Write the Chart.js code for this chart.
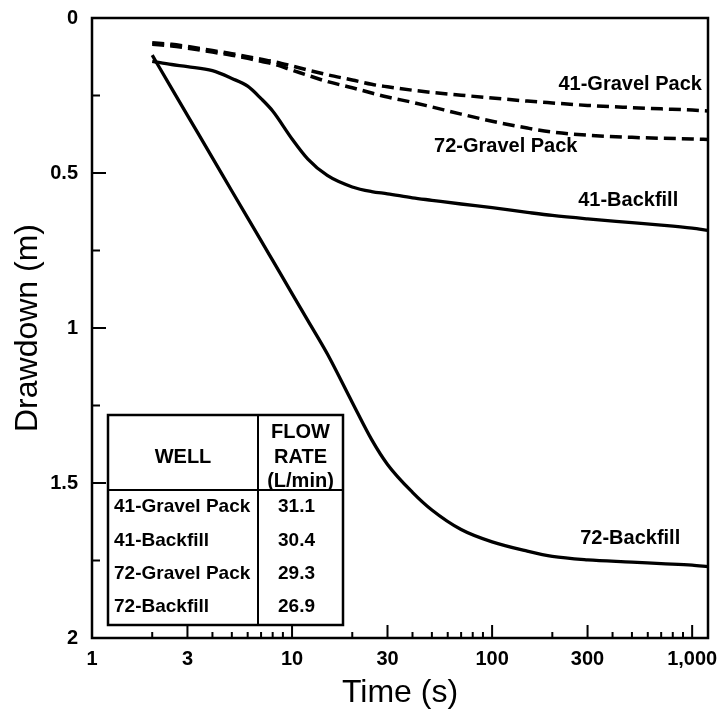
<!DOCTYPE html>
<html><head><meta charset="utf-8">
<script src="https://cdn.jsdelivr.net/npm/chart.js@4/dist/chart.umd.min.js"></script>
<style>html,body{margin:0;padding:0;background:#fff}#wrap{width:726px;height:715px}canvas{display:block}</style>
</head><body><div id="wrap"><canvas id="c" width="726" height="715"></canvas></div>
<script>
// ---- data ----
const times = [2, 2.5, 3, 4, 5, 6, 7, 8, 10, 12, 15, 20, 25, 30, 40, 50, 70, 100, 150, 200, 300, 500, 700, 1000, 1200];
const gravelPack41 = [0.08, 0.085, 0.092, 0.105, 0.115, 0.125, 0.133, 0.14, 0.155, 0.168, 0.183, 0.20, 0.214, 0.222, 0.233, 0.24, 0.249, 0.258, 0.268, 0.274, 0.282, 0.289, 0.293, 0.297, 0.30];
const gravelPack72 = [0.085, 0.09, 0.097, 0.11, 0.12, 0.13, 0.14, 0.148, 0.168, 0.185, 0.205, 0.225, 0.242, 0.255, 0.272, 0.287, 0.31, 0.333, 0.355, 0.368, 0.378, 0.385, 0.388, 0.39, 0.392];
const backfill41 = [0.14, 0.15, 0.157, 0.17, 0.195, 0.22, 0.26, 0.30, 0.39, 0.455, 0.508, 0.545, 0.56, 0.567, 0.58, 0.588, 0.60, 0.612, 0.627, 0.637, 0.648, 0.66, 0.668, 0.678, 0.685];
const backfill72 = [0.12, 0.227, 0.314, 0.451, 0.558, 0.645, 0.718, 0.782, 0.889, 0.976, 1.083, 1.24, 1.36, 1.44, 1.53, 1.587, 1.65, 1.69, 1.72, 1.737, 1.748, 1.755, 1.76, 1.765, 1.77];

const seriesNames = ['41-Gravel Pack', '72-Gravel Pack', '41-Backfill', '72-Backfill'];

const xTickValues = [1, 3, 10, 30, 100, 300, 1000];
const xTickLabels = ['1', '3', '10', '30', '100', '300', '1,000'];
const xMinorTicks = [2, 4, 5, 6, 7, 8, 9, 20, 40, 50, 60, 70, 80, 90, 200, 400, 500, 600, 700, 800, 900];
const yTickValues = [0, 0.5, 1, 1.5, 2];
const yTickLabels = ['0', '0.5', '1', '1.5', '2'];
const yMinorTicks = [0.25, 0.75, 1.25, 1.75];

const wells = ['41-Gravel Pack', '41-Backfill', '72-Gravel Pack', '72-Backfill'];
const flowRates = ['31.1', '30.4', '29.3', '26.9'];
const flowHeader = ['FLOW', 'RATE', '(L/min)'];

// curve label anchors (time, drawdown)
const labelTimes = [490, 117, 479, 490];
const labelDrawdowns = [0.216, 0.413, 0.59, 1.68];

const FONT = '"Liberation Sans", Arial, Helvetica, sans-serif';

function pts(ys) { return times.map((t, i) => ({ x: t, y: ys[i] })); }

const decorPlugin = {
  id: 'decor',
  afterDraw(chart) {
    const { ctx, chartArea: ca, scales: { x, y } } = chart;
    ctx.save();
    ctx.strokeStyle = '#000';
    ctx.fillStyle = '#000';
    // frame
    ctx.lineWidth = 2.5;
    ctx.strokeRect(ca.left, ca.top, ca.right - ca.left, ca.bottom - ca.top);
    // inward ticks
    ctx.lineWidth = 2;
    ctx.beginPath();
    xTickValues.forEach(v => { if (v > 1) { const p = x.getPixelForValue(v); ctx.moveTo(p, ca.bottom); ctx.lineTo(p, ca.bottom - 13); } });
    xMinorTicks.forEach(v => { const p = x.getPixelForValue(v); ctx.moveTo(p, ca.bottom); ctx.lineTo(p, ca.bottom - 6); });
    yTickValues.forEach(v => { if (v > 0 && v < 2) { const p = y.getPixelForValue(v); ctx.moveTo(ca.left, p); ctx.lineTo(ca.left + 14, p); } });
    yMinorTicks.forEach(v => { const p = y.getPixelForValue(v); ctx.moveTo(ca.left, p); ctx.lineTo(ca.left + 8, p); });
    ctx.stroke();

    // curve labels
    ctx.font = 'bold 20px ' + FONT;
    ctx.textAlign = 'center';
    ctx.textBaseline = 'middle';
    seriesNames.forEach((n, i) => {
      ctx.fillText(n, x.getPixelForValue(labelTimes[i]), y.getPixelForValue(labelDrawdowns[i]));
    });

    // inset table
    const L = ca.left + 16, R = ca.left + 251, T = 415, B = 625, C = 258, H = 490;
    ctx.fillStyle = '#fff';
    ctx.fillRect(L, T, R - L, B - T);
    ctx.fillStyle = '#000';
    ctx.lineWidth = 2.5;
    ctx.strokeRect(L, T, R - L, B - T);
    ctx.lineWidth = 2;
    ctx.beginPath();
    ctx.moveTo(C, T); ctx.lineTo(C, B);
    ctx.moveTo(L, H); ctx.lineTo(R, H);
    ctx.stroke();
    ctx.font = 'bold 20px ' + FONT;
    ctx.textAlign = 'center';
    ctx.fillText('WELL', (L + C) / 2, 457);
    const hy = [432, 457, 481];
    flowHeader.forEach((t, i) => ctx.fillText(t, (C + R) / 2, hy[i]));
    const ry = [507, 541, 574, 607];
    ctx.font = 'bold 19px ' + FONT;
    wells.forEach((w, i) => {
      ctx.textAlign = 'left';
      ctx.fillText(w, L + 6, ry[i]);
      ctx.textAlign = 'center';
      ctx.fillText(flowRates[i], (C + R) / 2 - 4, ry[i]);
    });
    ctx.restore();
  }
};

new Chart(document.getElementById('c'), {
  type: 'line',
  data: {
    datasets: [
      { label: seriesNames[0], data: pts(gravelPack41), borderColor: '#000', borderWidth: 3.5, borderDash: [12, 6], pointRadius: 0, fill: false, cubicInterpolationMode: 'monotone' },
      { label: seriesNames[1], data: pts(gravelPack72), borderColor: '#000', borderWidth: 3.5, borderDash: [12, 6], pointRadius: 0, fill: false, cubicInterpolationMode: 'monotone' },
      { label: seriesNames[2], data: pts(backfill41), borderColor: '#000', borderWidth: 3.3, pointRadius: 0, fill: false, cubicInterpolationMode: 'monotone' },
      { label: seriesNames[3], data: pts(backfill72), borderColor: '#000', borderWidth: 3.3, pointRadius: 0, fill: false, cubicInterpolationMode: 'monotone' }
    ]
  },
  options: {
    responsive: false,
    animation: false,
    devicePixelRatio: 1,
    layout: { padding: { top: 18, right: 18, left: 0, bottom: 0 } },
    plugins: { legend: { display: false }, tooltip: { enabled: false } },
    scales: {
      x: {
        type: 'logarithmic',
        min: 1, max: 1200,
        grid: { display: false, drawTicks: false },
        border: { display: false },
        afterBuildTicks: s => { s.ticks = xTickValues.map(v => ({ value: v })); },
        afterFit: s => { s.height = 77; s.paddingLeft = 0; s.paddingRight = 0; },
        ticks: {
          autoSkip: false, maxRotation: 0, padding: 9, color: '#000',
          font: { family: FONT, size: 20, weight: 'bold' },
          callback: (v, i) => xTickLabels[i]
        },
        title: { display: true, text: 'Time (s)', color: '#000', font: { family: FONT, size: 32 }, padding: { top: 0, bottom: 3 } }
      },
      y: {
        type: 'linear',
        reverse: true,
        min: 0, max: 2,
        grid: { display: false, drawTicks: false },
        border: { display: false },
        afterBuildTicks: s => { s.ticks = yTickValues.map(v => ({ value: v })); },
        afterFit: s => { s.width = 92; s.paddingTop = 0; s.paddingBottom = 0; },
        ticks: {
          padding: 14, color: '#000',
          font: { family: FONT, size: 20, weight: 'bold' },
          callback: (v, i) => yTickLabels[i]
        },
        title: { display: true, text: 'Drawdown (m)', color: '#000', font: { family: FONT, size: 32 }, padding: { top: 9, bottom: 0 } }
      }
    }
  },
  plugins: [decorPlugin]
});
</script>
</body></html>
